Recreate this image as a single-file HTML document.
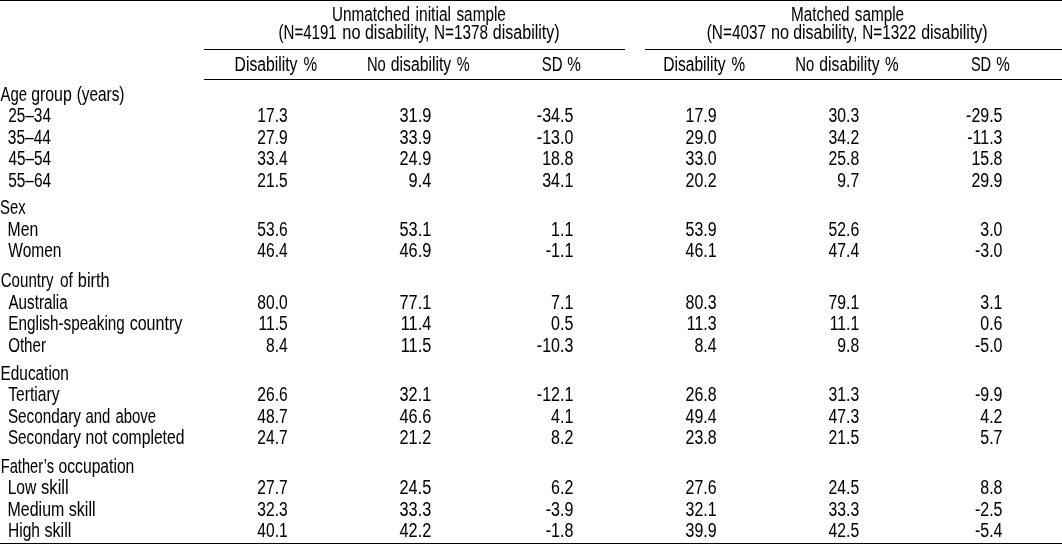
<!DOCTYPE html>
<html><head><meta charset="utf-8"><title>Table</title>
<style>
html,body{margin:0;padding:0;background:#fff;}
body{width:1062px;height:544px;position:relative;overflow:hidden;}
#w{position:absolute;left:0;top:0;width:1062px;height:544px;will-change:transform;}
svg{position:absolute;left:0;top:0;display:block;}
text{font-family:"Liberation Sans",sans-serif;font-size:19.6px;fill:#000;stroke:#000;stroke-width:0.05px;white-space:pre;}
.m{text-anchor:middle;}
.e{text-anchor:end;}
.rule{position:absolute;background:#000;}
</style></head><body>
<div id="w">
<svg width="1062" height="544" viewBox="0 0 1062 544">
<text transform="translate(332.05,21) scale(0.7788,1)">Unmatched</text>
<text transform="translate(415.49,21) scale(0.7964,1)">initial</text>
<text transform="translate(456.45,21) scale(0.7823,1)">sample</text>
<text transform="translate(278.49,39) scale(0.7694,1)">(N=4191</text>
<text transform="translate(342.30,39) scale(0.8368,1)">no</text>
<text transform="translate(364.98,39) scale(0.8154,1)">disability,</text>
<text transform="translate(434.06,39) scale(0.7813,1)">N=1378</text>
<text transform="translate(492.76,39) scale(0.8198,1)">disability)</text>
<text transform="translate(791.10,21) scale(0.7790,1)">Matched</text>
<text transform="translate(854.87,21) scale(0.7798,1)">sample</text>
<text transform="translate(706.76,39) scale(0.7833,1)">(N=4037</text>
<text transform="translate(770.98,39) scale(0.8262,1)">no</text>
<text transform="translate(793.19,39) scale(0.8133,1)">disability,</text>
<text transform="translate(862.29,39) scale(0.7787,1)">N=1322</text>
<text transform="translate(921.19,39) scale(0.8130,1)">disability)</text>
<text transform="translate(234.61,71) scale(0.8022,1)">Disability</text>
<text transform="translate(303.41,71) scale(0.7844,1)">%</text>
<text transform="translate(366.92,71) scale(0.7529,1)">No</text>
<text transform="translate(390.74,71) scale(0.8051,1)">disability</text>
<text transform="translate(456.80,71) scale(0.7377,1)">%</text>
<text transform="translate(541.64,71) scale(0.7650,1)">SD</text>
<text transform="translate(567.34,71) scale(0.7813,1)">%</text>
<text transform="translate(663.24,71) scale(0.7953,1)">Disability</text>
<text transform="translate(731.45,71) scale(0.7795,1)">%</text>
<text transform="translate(795.30,71) scale(0.7563,1)">No</text>
<text transform="translate(819.37,71) scale(0.8003,1)">disability</text>
<text transform="translate(885.04,71) scale(0.7793,1)">%</text>
<text transform="translate(970.89,71) scale(0.7455,1)">SD</text>
<text transform="translate(996.32,71) scale(0.7778,1)">%</text>
<text transform="translate(0.56,101) scale(0.7597,1)">Age</text>
<text transform="translate(31.20,101) scale(0.8089,1)">group</text>
<text transform="translate(76.64,101) scale(0.7849,1)">(years)</text>
<text transform="translate(8.18,122) scale(0.7858,1)">25–34</text>
<text class="e" transform="translate(287.67,122) scale(0.7963,1)">17.3</text>
<text class="e" transform="translate(431.24,122) scale(0.8317,1)">31.9</text>
<text class="e" transform="translate(573.36,122) scale(0.8185,1)">-34.5</text>
<text class="e" transform="translate(716.57,122) scale(0.8140,1)">17.9</text>
<text class="e" transform="translate(859.26,122) scale(0.8045,1)">30.3</text>
<text class="e" transform="translate(1002.50,122) scale(0.8147,1)">-29.5</text>
<text transform="translate(7.77,144) scale(0.7939,1)">35–44</text>
<text class="e" transform="translate(287.67,144) scale(0.7963,1)">27.9</text>
<text class="e" transform="translate(431.24,144) scale(0.8317,1)">33.9</text>
<text class="e" transform="translate(573.36,144) scale(0.8185,1)">-13.0</text>
<text class="e" transform="translate(716.57,144) scale(0.8140,1)">29.0</text>
<text class="e" transform="translate(859.26,144) scale(0.8045,1)">34.2</text>
<text class="e" transform="translate(1002.50,144) scale(0.8147,1)">-11.3</text>
<text transform="translate(8.48,165) scale(0.7820,1)">45–54</text>
<text class="e" transform="translate(287.67,165) scale(0.7963,1)">33.4</text>
<text class="e" transform="translate(431.24,165) scale(0.8317,1)">24.9</text>
<text class="e" transform="translate(573.36,165) scale(0.8185,1)">18.8</text>
<text class="e" transform="translate(716.57,165) scale(0.8140,1)">33.0</text>
<text class="e" transform="translate(859.26,165) scale(0.8045,1)">25.8</text>
<text class="e" transform="translate(1002.50,165) scale(0.8147,1)">15.8</text>
<text transform="translate(8.14,187) scale(0.7893,1)">55–64</text>
<text class="e" transform="translate(287.67,187) scale(0.7963,1)">21.5</text>
<text class="e" transform="translate(431.24,187) scale(0.8317,1)">9.4</text>
<text class="e" transform="translate(573.36,187) scale(0.8185,1)">34.1</text>
<text class="e" transform="translate(716.57,187) scale(0.8140,1)">20.2</text>
<text class="e" transform="translate(859.26,187) scale(0.8045,1)">9.7</text>
<text class="e" transform="translate(1002.50,187) scale(0.8147,1)">29.9</text>
<text transform="translate(0.04,214) scale(0.7597,1)">Sex</text>
<text transform="translate(7.60,236) scale(0.8045,1)">Men</text>
<text class="e" transform="translate(287.67,236) scale(0.7963,1)">53.6</text>
<text class="e" transform="translate(431.24,236) scale(0.8317,1)">53.1</text>
<text class="e" transform="translate(573.36,236) scale(0.8185,1)">1.1</text>
<text class="e" transform="translate(716.57,236) scale(0.8140,1)">53.9</text>
<text class="e" transform="translate(859.26,236) scale(0.8045,1)">52.6</text>
<text class="e" transform="translate(1002.50,236) scale(0.8147,1)">3.0</text>
<text transform="translate(8.29,257) scale(0.7906,1)">Women</text>
<text class="e" transform="translate(287.67,257) scale(0.7963,1)">46.4</text>
<text class="e" transform="translate(431.24,257) scale(0.8317,1)">46.9</text>
<text class="e" transform="translate(573.36,257) scale(0.8185,1)">-1.1</text>
<text class="e" transform="translate(716.57,257) scale(0.8140,1)">46.1</text>
<text class="e" transform="translate(859.26,257) scale(0.8045,1)">47.4</text>
<text class="e" transform="translate(1002.50,257) scale(0.8147,1)">-3.0</text>
<text transform="translate(0.71,287) scale(0.7705,1)">Country</text>
<text transform="translate(60.02,287) scale(0.7883,1)">of</text>
<text transform="translate(77.81,287) scale(0.8336,1)">birth</text>
<text transform="translate(8.43,309) scale(0.7766,1)">Australia</text>
<text class="e" transform="translate(287.67,309) scale(0.7963,1)">80.0</text>
<text class="e" transform="translate(431.24,309) scale(0.8317,1)">77.1</text>
<text class="e" transform="translate(573.36,309) scale(0.8185,1)">7.1</text>
<text class="e" transform="translate(716.57,309) scale(0.8140,1)">80.3</text>
<text class="e" transform="translate(859.26,309) scale(0.8045,1)">79.1</text>
<text class="e" transform="translate(1002.50,309) scale(0.8147,1)">3.1</text>
<text transform="translate(8.30,330) scale(0.7807,1)">English-speaking</text>
<text transform="translate(129.63,330) scale(0.8213,1)">country</text>
<text class="e" transform="translate(287.67,330) scale(0.7963,1)">11.5</text>
<text class="e" transform="translate(431.24,330) scale(0.8317,1)">11.4</text>
<text class="e" transform="translate(573.36,330) scale(0.8185,1)">0.5</text>
<text class="e" transform="translate(716.57,330) scale(0.8140,1)">11.3</text>
<text class="e" transform="translate(859.26,330) scale(0.8045,1)">11.1</text>
<text class="e" transform="translate(1002.50,330) scale(0.8147,1)">0.6</text>
<text transform="translate(8.13,352) scale(0.7732,1)">Other</text>
<text class="e" transform="translate(287.67,352) scale(0.7963,1)">8.4</text>
<text class="e" transform="translate(431.24,352) scale(0.8317,1)">11.5</text>
<text class="e" transform="translate(573.36,352) scale(0.8185,1)">-10.3</text>
<text class="e" transform="translate(716.57,352) scale(0.8140,1)">8.4</text>
<text class="e" transform="translate(859.26,352) scale(0.8045,1)">9.8</text>
<text class="e" transform="translate(1002.50,352) scale(0.8147,1)">-5.0</text>
<text transform="translate(0.55,380) scale(0.7840,1)">Education</text>
<text transform="translate(8.14,401) scale(0.7996,1)">Tertiary</text>
<text class="e" transform="translate(287.67,401) scale(0.7963,1)">26.6</text>
<text class="e" transform="translate(431.24,401) scale(0.8317,1)">32.1</text>
<text class="e" transform="translate(573.36,401) scale(0.8185,1)">-12.1</text>
<text class="e" transform="translate(716.57,401) scale(0.8140,1)">26.8</text>
<text class="e" transform="translate(859.26,401) scale(0.8045,1)">31.3</text>
<text class="e" transform="translate(1002.50,401) scale(0.8147,1)">-9.9</text>
<text transform="translate(7.89,423) scale(0.7799,1)">Secondary</text>
<text transform="translate(85.45,423) scale(0.7599,1)">and</text>
<text transform="translate(115.47,423) scale(0.7607,1)">above</text>
<text class="e" transform="translate(287.67,423) scale(0.7963,1)">48.7</text>
<text class="e" transform="translate(431.24,423) scale(0.8317,1)">46.6</text>
<text class="e" transform="translate(573.36,423) scale(0.8185,1)">4.1</text>
<text class="e" transform="translate(716.57,423) scale(0.8140,1)">49.4</text>
<text class="e" transform="translate(859.26,423) scale(0.8045,1)">47.3</text>
<text class="e" transform="translate(1002.50,423) scale(0.8147,1)">4.2</text>
<text transform="translate(7.89,444) scale(0.7799,1)">Secondary</text>
<text transform="translate(85.38,444) scale(0.8061,1)">not</text>
<text transform="translate(112.04,444) scale(0.8003,1)">completed</text>
<text class="e" transform="translate(287.67,444) scale(0.7963,1)">24.7</text>
<text class="e" transform="translate(431.24,444) scale(0.8317,1)">21.2</text>
<text class="e" transform="translate(573.36,444) scale(0.8185,1)">8.2</text>
<text class="e" transform="translate(716.57,444) scale(0.8140,1)">23.8</text>
<text class="e" transform="translate(859.26,444) scale(0.8045,1)">21.5</text>
<text class="e" transform="translate(1002.50,444) scale(0.8147,1)">5.7</text>
<text transform="translate(0.70,473) scale(0.7495,1)">Father’s</text>
<text transform="translate(58.55,473) scale(0.7998,1)">occupation</text>
<text transform="translate(7.63,494) scale(0.7952,1)">Low</text>
<text transform="translate(41.11,494) scale(0.8436,1)">skill</text>
<text class="e" transform="translate(287.67,494) scale(0.7963,1)">27.7</text>
<text class="e" transform="translate(431.24,494) scale(0.8317,1)">24.5</text>
<text class="e" transform="translate(573.36,494) scale(0.8185,1)">6.2</text>
<text class="e" transform="translate(716.57,494) scale(0.8140,1)">27.6</text>
<text class="e" transform="translate(859.26,494) scale(0.8045,1)">24.5</text>
<text class="e" transform="translate(1002.50,494) scale(0.8147,1)">8.8</text>
<text transform="translate(7.59,516) scale(0.8135,1)">Medium</text>
<text transform="translate(68.71,516) scale(0.8225,1)">skill</text>
<text class="e" transform="translate(287.67,516) scale(0.7963,1)">32.3</text>
<text class="e" transform="translate(431.24,516) scale(0.8317,1)">33.3</text>
<text class="e" transform="translate(573.36,516) scale(0.8185,1)">-3.9</text>
<text class="e" transform="translate(716.57,516) scale(0.8140,1)">32.1</text>
<text class="e" transform="translate(859.26,516) scale(0.8045,1)">33.3</text>
<text class="e" transform="translate(1002.50,516) scale(0.8147,1)">-2.5</text>
<text transform="translate(8.00,537) scale(0.7930,1)">High</text>
<text transform="translate(44.41,537) scale(0.8261,1)">skill</text>
<text class="e" transform="translate(287.67,537) scale(0.7963,1)">40.1</text>
<text class="e" transform="translate(431.24,537) scale(0.8317,1)">42.2</text>
<text class="e" transform="translate(573.36,537) scale(0.8185,1)">-1.8</text>
<text class="e" transform="translate(716.57,537) scale(0.8140,1)">39.9</text>
<text class="e" transform="translate(859.26,537) scale(0.8045,1)">42.5</text>
<text class="e" transform="translate(1002.50,537) scale(0.8147,1)">-5.4</text>
</svg>
<div class="rule" style="left:0px;top:0px;width:1062px;height:1px"></div>
<div class="rule" style="left:204px;top:49px;width:421px;height:1px"></div>
<div class="rule" style="left:645px;top:49px;width:417px;height:1px"></div>
<div class="rule" style="left:204px;top:79px;width:858px;height:1px"></div>
<div class="rule" style="left:0px;top:543px;width:1062px;height:1px"></div>
</div>
</body></html>
